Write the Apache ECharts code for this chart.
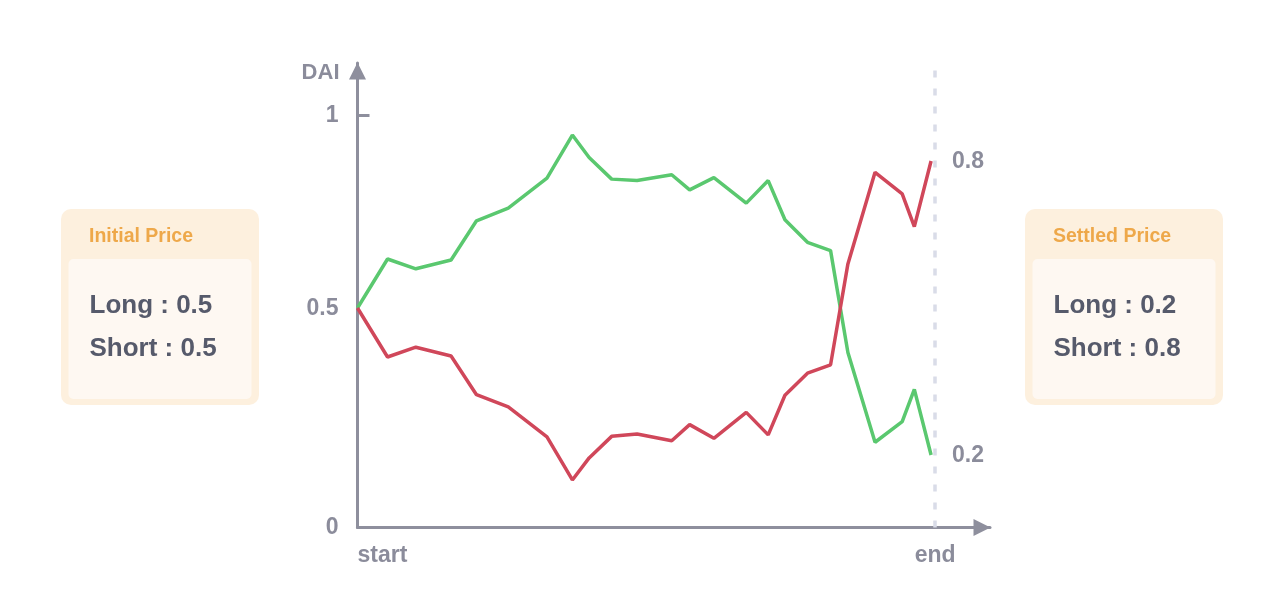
<!DOCTYPE html>
<html>
<head>
<meta charset="utf-8">
<script src="https://cdn.jsdelivr.net/npm/echarts@6/dist/echarts.min.js"></script>
<style>
html,body{margin:0;padding:0;background:#ffffff;}
#chart{width:1288px;height:614px;}
</style>
</head>
<body>
<div id="chart"></div>
<script>
// ---- data ----
const TIME = [0, 5.2, 10.1, 16.2, 20.6, 26.1, 32.8, 37.2, 40.1, 44.0, 48.4, 54.4, 57.5, 61.7, 67.3, 71.1, 74.0, 77.9, 81.9, 84.9, 89.6, 94.3, 96.4, 99.3];
const LONG_PRICE = [0.5, 0.600, 0.580, 0.598, 0.678, 0.704, 0.765, 0.853, 0.807, 0.763, 0.760, 0.772, 0.741, 0.766, 0.714, 0.760, 0.680, 0.634, 0.617, 0.409, 0.226, 0.268, 0.334, 0.2];
const SHORT_PRICE = [0.5, 0.400, 0.420, 0.402, 0.323, 0.298, 0.237, 0.149, 0.194, 0.238, 0.243, 0.229, 0.262, 0.234, 0.287, 0.241, 0.322, 0.367, 0.384, 0.590, 0.777, 0.733, 0.666, 0.8];
const END_TIME = 100;
const X_TICK_VALUES = [0, 100];
const X_TICK_LABELS = ['start', 'end'];
const Y_MIN = 0.052, Y_MAX = 1.0, X_MAX = 109.5;
const Y_TICK_VALUES = [0.052, 0.5, 0.893];
const Y_TICK_LABELS = ['0', '0.5', '1'];
const INITIAL = { title: 'Initial Price', long: 0.5, short: 0.5 };
const SETTLED = { title: 'Settled Price', long: 0.2, short: 0.8 };

const AXIS_COLOR = '#8e8f9d';
const LABEL_COLOR = '#8b8c9b';
const FONT = '"Liberation Sans", Arial, Helvetica, sans-serif';

const chart = echarts.init(document.getElementById('chart'), null, { renderer: 'canvas' });

function pairs(ys) { return TIME.map((t, i) => [t, ys[i]]); }

function infoBox(x, info) {
  return {
    type: 'group', left: x, top: 209,
    children: [
      { type: 'rect', shape: { x: 0, y: 0, width: 198, height: 196, r: 10 }, style: { fill: '#fdf0de' } },
      { type: 'rect', shape: { x: 7.5, y: 50, width: 183, height: 140, r: 5 }, style: { fill: '#fef8f2' } },
      { type: 'text', x: 28, y: 27.5, style: { text: info.title, font: 'bold 19.5px ' + FONT, fill: '#eea84a', textVerticalAlign: 'middle' } },
      { type: 'text', x: 28.5, y: 96.5, style: { text: 'Long : ' + info.long, font: 'bold 26px ' + FONT, fill: '#565a6b', textVerticalAlign: 'middle' } },
      { type: 'text', x: 28.5, y: 139.5, style: { text: 'Short : ' + info.short, font: 'bold 26px ' + FONT, fill: '#565a6b', textVerticalAlign: 'middle' } }
    ]
  };
}

const labelStyle = { color: LABEL_COLOR, fontSize: 23, fontWeight: 'bold', fontFamily: FONT };

const option = {
  animation: false,
  backgroundColor: '#ffffff',
  grid: { left: 357.5, right: 298, top: 63, bottom: 86.5, containLabel: false },
  xAxis: {
    type: 'value', min: 0, max: X_MAX,
    axisLine: { show: true, symbol: ['none', 'triangle'], symbolSize: [17, 17], symbolOffset: [0, -8], lineStyle: { color: AXIS_COLOR, width: 3 } },
    axisTick: { show: false },
    splitLine: { show: false },
    axisLabel: Object.assign({
      customValues: X_TICK_VALUES,
      formatter: v => X_TICK_LABELS[X_TICK_VALUES.indexOf(v)],
      margin: 17,
      alignMinLabel: 'left'
    }, labelStyle)
  },
  yAxis: {
    type: 'value', min: Y_MIN, max: Y_MAX,
    name: 'DAI', nameLocation: 'end', nameGap: -9.5,
    nameTextStyle: Object.assign({ align: 'right', verticalAlign: 'middle', padding: [2, 18, 0, 0] }, labelStyle, { fontSize: 22 }),
    axisLine: { show: true, symbol: ['none', 'triangle'], symbolSize: [17, 17], symbolOffset: [0, -8], lineStyle: { color: AXIS_COLOR, width: 3 } },
    axisTick: { show: true, inside: true, length: 12, customValues: [Y_TICK_VALUES[2]], lineStyle: { color: AXIS_COLOR, width: 3 } },
    splitLine: { show: false },
    axisLabel: Object.assign({
      customValues: Y_TICK_VALUES,
      formatter: v => Y_TICK_LABELS[Y_TICK_VALUES.indexOf(v)],
      margin: 19,
      verticalAlign: 'top',
      padding: [-11, 0, 0, 0]
    }, labelStyle)
  },
  series: [
    {
      name: 'Long', type: 'line', data: pairs(LONG_PRICE), symbol: 'none', smooth: false,
      lineStyle: { color: '#5ac86f', width: 3.5 }, itemStyle: { color: '#5ac86f' },
      endLabel: Object.assign({ show: true, distance: 21, verticalAlign: 'top', padding: [-11, 0, 0, 0], formatter: p => p.value[1].toFixed(1) }, labelStyle),
      markLine: {
        silent: true, symbol: ['none', 'none'], label: { show: false },
        lineStyle: { color: '#d9dce8', width: 3.5, type: [7, 11] },
        data: [{ xAxis: END_TIME }]
      },
      z: 3
    },
    {
      name: 'Short', type: 'line', data: pairs(SHORT_PRICE), symbol: 'none', smooth: false,
      lineStyle: { color: '#d0475a', width: 3.5 }, itemStyle: { color: '#d0475a' },
      endLabel: Object.assign({ show: true, distance: 21, verticalAlign: 'top', padding: [-11, 0, 0, 0], formatter: p => p.value[1].toFixed(1) }, labelStyle),
      z: 3
    }
  ],
  graphic: [infoBox(61, INITIAL), infoBox(1025, SETTLED)]
};
chart.setOption(option);
</script>
</body>
</html>
